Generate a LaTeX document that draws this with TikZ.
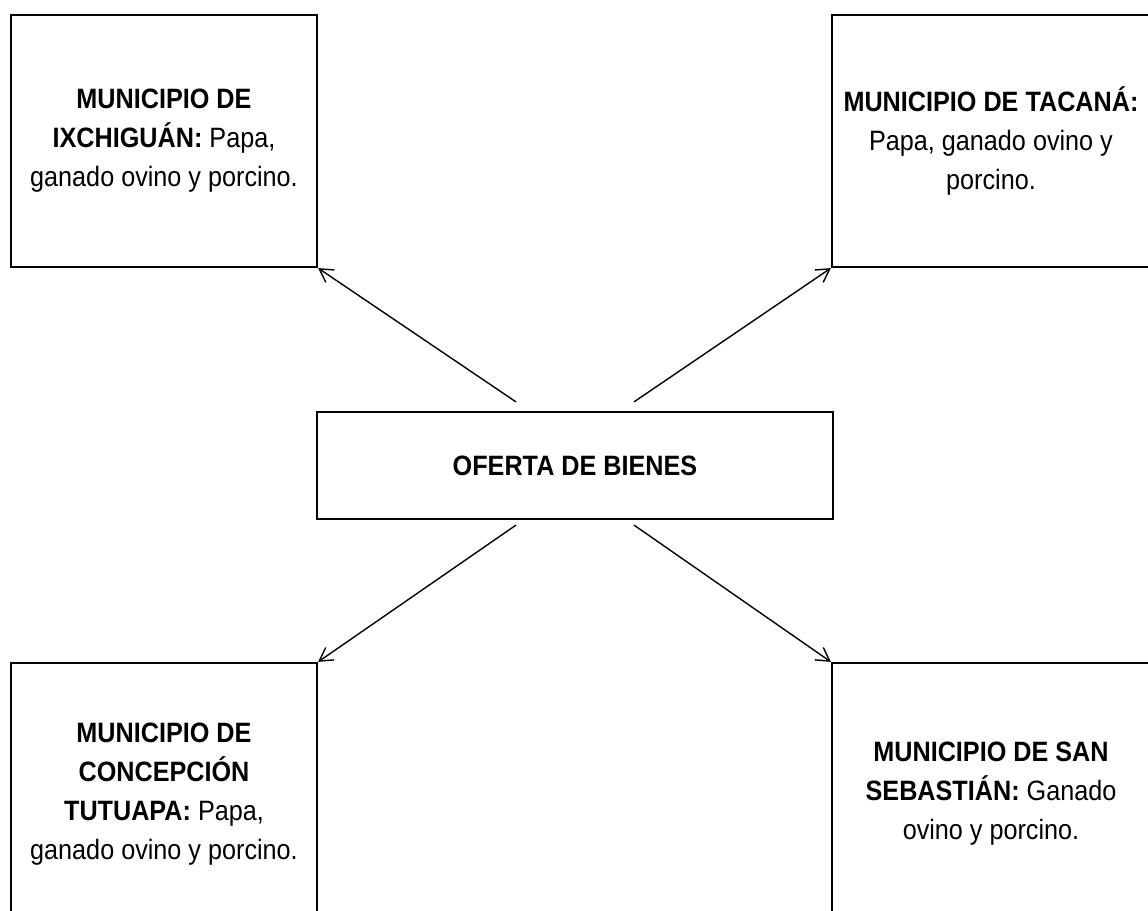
\documentclass[tikz,border=0pt]{standalone}
\usepackage{fontspec}
\setmainfont{Liberation Sans}[FakeStretch=0.9]
\usetikzlibrary{arrows.meta}

\tikzset{
  muni/.style={draw, line width=1.1pt, minimum width=153pt, minimum height=126pt,
    inner sep=0pt, align=center, font=\fontsize{14}{19.5}\selectfont},
  flecha/.style={-{Straight Barb[length=6.5pt,width=7.5pt]}, line width=0.7pt},
}

\begin{document}
\begin{tikzpicture}[x=0.5pt,y=0.5pt]
\clip (0,0) rectangle (1148,911);
% Oferta central
\node[muni, minimum width=258pt, minimum height=53.5pt] (ofe) at (575,445.5) {\textbf{OFERTA DE BIENES}};

% Municipios de arriba
\node[muni] (ixc) at (164,770) {\textbf{MUNICIPIO DE}\\ \textbf{IXCHIGUÁN:} Papa,\\ ganado ovino y porcino.};
\node[muni, minimum width=159pt] (tac) at (991,770) {\textbf{MUNICIPIO DE TACANÁ:}\\ Papa, ganado ovino y\\ porcino.};

% Municipios de abajo
\node[muni, minimum height=131pt] (con) at (164,117) {\textbf{MUNICIPIO DE}\\ \textbf{CONCEPCIÓN}\\ \textbf{TUTUAPA:} Papa,\\ ganado ovino y porcino.};
\node[muni, minimum width=159pt, minimum height=131pt] (seb) at (991,117) {\textbf{MUNICIPIO DE SAN}\\ \textbf{SEBASTIÁN:} Ganado\\ ovino y porcino.};

% Flechas
\coordinate (o1) at ([xshift=-29.5pt,yshift=4.5pt]ofe.north);
\coordinate (o2) at ([xshift=29.5pt,yshift=4.5pt]ofe.north);
\coordinate (o3) at ([xshift=-29.5pt,yshift=-2.5pt]ofe.south);
\coordinate (o4) at ([xshift=29.5pt,yshift=-2.5pt]ofe.south);
\draw[flecha] (o1) -- (ixc.south east);
\draw[flecha] (o2) -- (tac.south west);
\draw[flecha] (o3) -- (con.north east);
\draw[flecha] (o4) -- (seb.north west);
\end{tikzpicture}
\end{document}
